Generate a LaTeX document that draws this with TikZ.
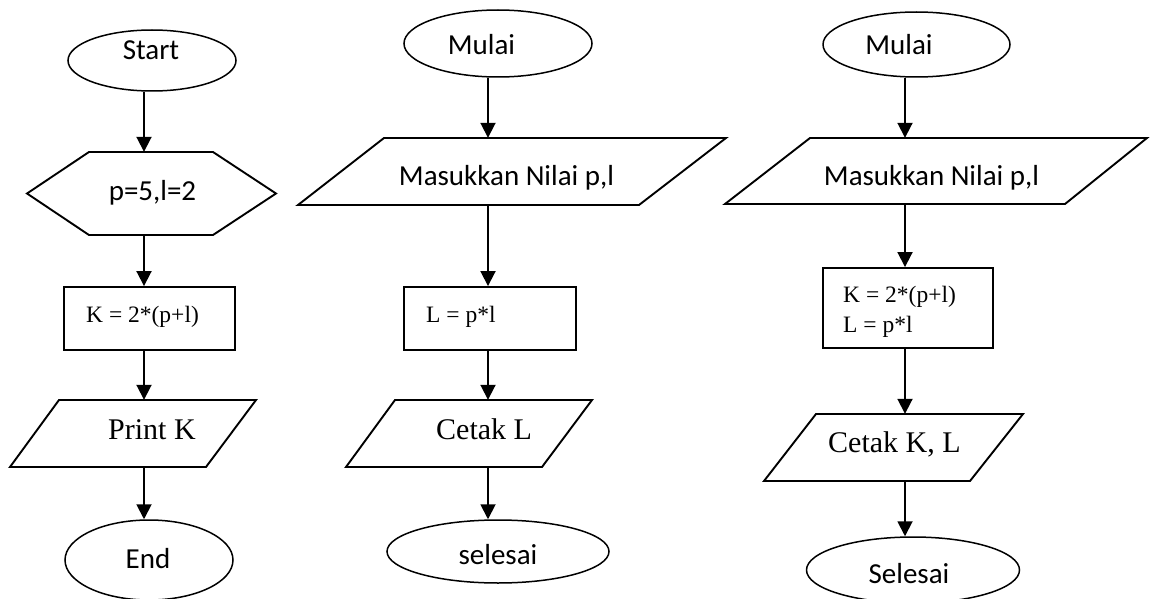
\documentclass[tikz,border=0pt]{standalone}
\usepackage{fontspec}
\newfontfamily\calfont{Carlito}
\newfontfamily\tnrfont{Liberation Serif}
\usetikzlibrary{shapes.geometric,arrows.meta,fit}
\tikzset{
  shp/.style={draw=black, line width=1.9pt, line join=miter},
  term/.style={ellipse, draw=black, line width=1.5pt, inner sep=0pt},
  ghost/.style={inner sep=0pt, draw=none},
  arr/.style={line width=1.9pt, -{Triangle[width=15pt,length=15pt]}},
  sans/.style={font=\calfont\fontsize{29}{34}\selectfont, anchor=base, inner sep=0pt},
  serifbig/.style={font=\tnrfont\fontsize{30}{36}\selectfont, anchor=base west, inner sep=0pt},
  serifsmall/.style={font=\tnrfont\fontsize{23.5}{30}\selectfont, anchor=base west, inner sep=0pt},
}
\newcommand\mypara[7]{%
  \draw[shp] (#2,#6) -- (#3,#6) -- (#5,#7) -- (#4,#7) -- cycle;
  \coordinate (#1-sw) at (#4,#7);
  \coordinate (#1-ne) at (#3,#6);
  \node[ghost, fit=(#1-sw)(#1-ne)] (#1) {};
}
\newcommand\mybox[5]{%
  \coordinate (#1-nw) at (#2,#3);
  \coordinate (#1-se) at (#4,#5);
  \node[ghost, shp, fit=(#1-nw)(#1-se)] (#1) {};
}
\begin{document}
\begin{tikzpicture}[x=1pt, y=-1pt]
\useasboundingbox (0,0) rectangle (1151,599);
\coordinate (c1) at (144,0);
\coordinate (c2) at (488,0);
\coordinate (c3) at (905,0);

% ---------- chart 1 ----------
\node[term, minimum width=168pt, minimum height=61pt] (start) at (152,60.5) {};
\node[sans] (startT) at (151,60) {Start};

\coordinate (hexL) at (27,193.5);
\coordinate (hexR) at (276,193.5);
\draw[shp] (hexL) -- (89,152) -- (213,152) -- (hexR) -- (213,235) -- (89,235) -- cycle;
\coordinate (hex-nw) at (27,152);
\coordinate (hex-se) at (276,235);
\node[ghost, fit=(hex-nw)(hex-se)] (hex) {};
\node[sans] (hexT) at (152.5,200) {p=5,l=2};

\mybox{box1}{64}{287}{235}{350}
\node[serifsmall] (box1T) at (86,322) {K = 2*(p+l)};

\mypara{print}{59}{256}{10}{206}{400}{467}
\node[serifbig] (printT) at (108,439) {Print K};

\node[term, minimum width=168pt, minimum height=80pt] (end) at (149,560) {};
\node[sans] (endT) at (148,568) {End};

\draw[arr] (start.south -| c1) -- (hex.north -| c1);
\draw[arr] (hex.south -| c1) -- (box1.north -| c1);
\draw[arr] (box1.south -| c1) -- (print.north -| c1);
\draw[arr] (print.south -| c1) -- (end.north -| c1);

% ---------- chart 2 ----------
\node[term, minimum width=188pt, minimum height=67pt] (mulai2) at (498,43.5) {};
\node[sans] (mulai2T) at (481.5,55) {Mulai};

\mypara{input2}{384}{726}{298}{639}{138}{205}
\node[sans] (input2T) at (506.5,185) {Masukkan Nilai p,l};

\mybox{box2}{404}{287}{576}{350}
\node[serifsmall] (box2T) at (426,322) {L = p*l};

\mypara{out2}{395}{592}{346}{542}{400}{467}
\node[serifbig] (out2T) at (436,439) {Cetak L};

\node[term, minimum width=222pt, minimum height=63pt] (sel2) at (498,551.5) {};
\node[sans] (sel2T) at (498,564) {selesai};

\draw[arr] (mulai2.south -| c2) -- (input2.north -| c2);
\draw[arr] (input2.south -| c2) -- (box2.north -| c2);
\draw[arr] (box2.south -| c2) -- (out2.north -| c2);
\draw[arr] (out2.south -| c2) -- (sel2.north -| c2);

% ---------- chart 3 ----------
\node[term, minimum width=187pt, minimum height=65pt] (mulai3) at (916.5,44.5) {};
\node[sans] (mulai3T) at (899,55) {Mulai};

\mypara{input3}{810}{1147}{725}{1065}{138}{204}
\node[sans] (input3T) at (931.5,185) {Masukkan Nilai p,l};

\mybox{box3}{823}{268}{993}{348}
\node[serifsmall] (box3T1) at (843,302) {K = 2*(p+l)};
\node[serifsmall] (box3T2) at (843,332) {L = p*l};

\mypara{out3}{816}{1023}{764}{970}{414}{481}
\node[serifbig] (out3T) at (828,452) {Cetak K, L};

\node[term, minimum width=213pt, minimum height=66pt] (sel3) at (913,570) {};
\node[sans] (sel3T) at (909,583) {Selesai};

\draw[arr] (mulai3.south -| c3) -- (input3.north -| c3);
\draw[arr] (input3.south -| c3) -- (box3.north -| c3);
\draw[arr] (box3.south -| c3) -- (out3.north -| c3);
\draw[arr] (out3.south -| c3) -- (sel3.north -| c3);
\end{tikzpicture}
\end{document}
